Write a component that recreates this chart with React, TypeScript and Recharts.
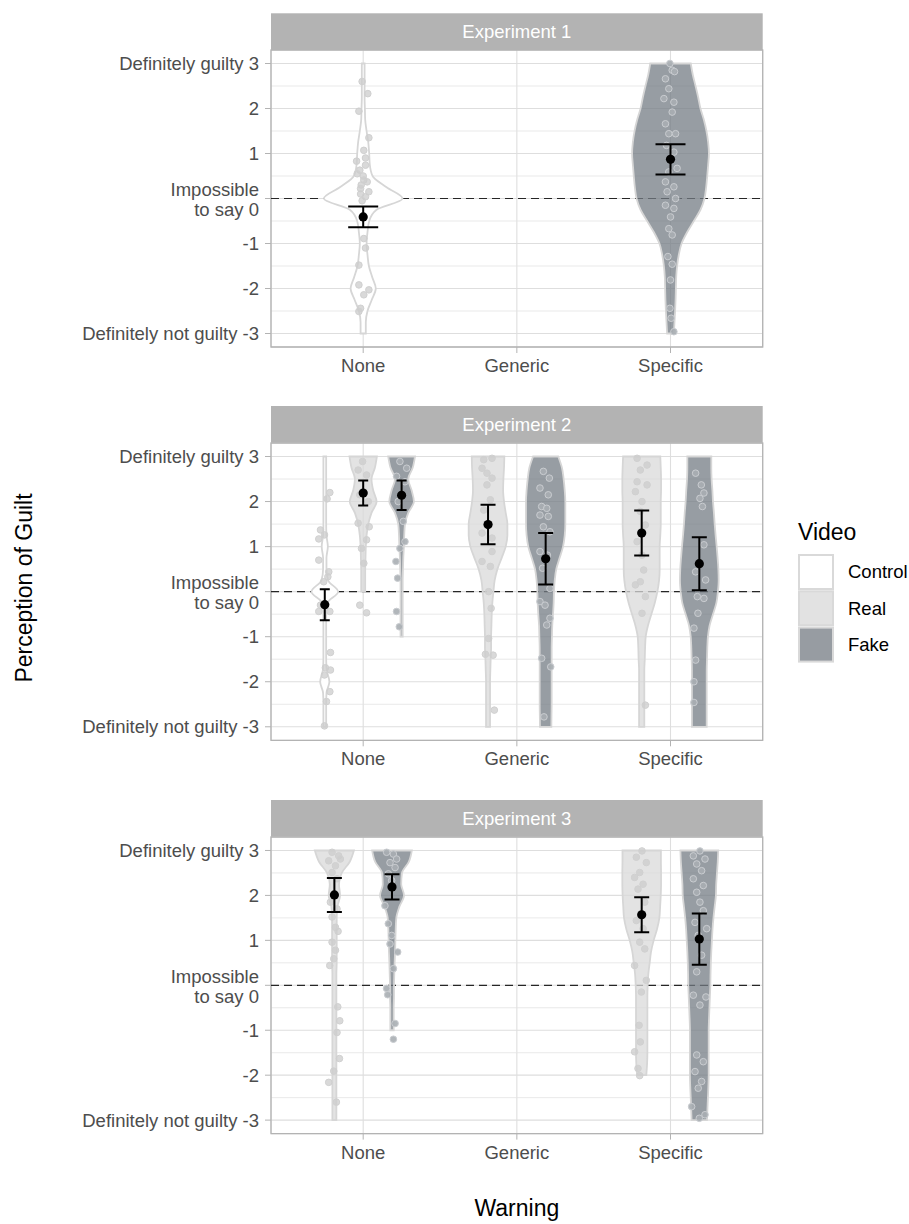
import {
  ComposedChart,
  Scatter,
  XAxis,
  YAxis,
  CartesianGrid,
  ReferenceLine,
  ReferenceArea,
  Curve,
} from "recharts";

const FONT = "'Liberation Sans', Arial, Helvetica, sans-serif";

// categories / labels
const warnings = ["None", "Generic", "Specific"];
const videos = ["Control", "Real", "Fake"];
const panelTitles = ["Experiment 1", "Experiment 2", "Experiment 3"];
const guiltTicks = [-3, -2, -1, 0, 1, 2, 3];
const guiltTickLabels = [
  "Definitely not guilty -3",
  "-2",
  "-1",
  "Impossible\nto say 0",
  "1",
  "2",
  "Definitely guilty 3",
];
const minorLevels = [2.5, 1.5, 0.5, -0.5, -1.5, -2.5];

// y levels at which violin half-widths (in x units) were read, top to bottom
const densityLevels = [
  3, 2.75, 2.5, 2.25, 2, 1.75, 1.5, 1.25, 1, 0.75, 0.5, 0.25, 0,
  -0.25, -0.5, -0.75, -1, -1.25, -1.5, -1.75, -2, -2.25, -2.5, -2.75, -3,
];

// ---- Experiment 1 ----
const exp1NoneControlWidth = [
  0.009, 0.009, 0.009, 0.009, 0.011, 0.013, 0.022, 0.033, 0.039, 0.043, 0.061, 0.152, 0.256,
  0.087, 0.039, 0.028, 0.022, 0.028, 0.037, 0.059, 0.082, 0.056, 0.028, 0.017, 0.017,
];
const exp1SpecificFakeWidth = [
  0.132, 0.145, 0.163, 0.18, 0.195, 0.217, 0.234, 0.245, 0.25, 0.245, 0.239, 0.232, 0.221,
  0.195, 0.152, 0.108, 0.072, 0.054, 0.043, 0.037, 0.035, 0.033, 0.03, 0.026, 0.022,
];
const exp1NoneControlJitter = [
  [-0.007, 2.6], [0.03, 2.33], [-0.028, 1.94], [0.037, 1.35], [0.004, 1.07], [0.015, 0.9],
  [-0.043, 0.83], [0.015, 0.74], [-0.022, 0.63], [-0.039, 0.55], [0, 0.5], [0.004, 0.41],
  [0.026, 0.37], [-0.013, 0.3], [-0.017, 0.22], [0.037, 0.15], [-0.017, 0.1], [0.015, 0.04],
  [-0.007, -0.05], [0.004, -0.89], [0.015, -1.1], [-0.028, -1.48], [-0.028, -1.92],
  [0.037, -2.03], [0.004, -2.14], [-0.017, -2.44], [-0.028, -2.51],
];
const exp1SpecificFakeJitter = [
  [-0.004, 3.0], [0.011, 2.85], [0.026, 2.82], [-0.033, 2.66], [-0.011, 2.44], [-0.043, 2.22],
  [0.022, 2.14], [0.011, 1.92], [-0.033, 1.66], [-0.011, 1.44], [0.033, 1.44], [-0.026, 1.18],
  [0.022, 1.03], [0.043, 0.67], [-0.011, 0.59], [-0.033, 0.37], [0.022, 0.26], [-0.022, 0.15],
  [0.033, 0.0], [-0.033, -0.15], [0.022, -0.22], [0, -0.41], [-0.011, -0.67], [0.011, -0.81],
  [-0.017, -1.29], [0.011, -1.46], [0, -1.81], [-0.004, -2.44], [0.004, -2.66], [0.022, -2.96],
];
const exp1Means = [-0.41, 0.87];
const exp1Errors = [0.23, 0.335];

// ---- Experiment 2 ----
const exp2NoneControlWidth = [
  0.009, 0.009, 0.009, 0.009, 0.009, 0.009, 0.009, 0.011, 0.02, 0.011, 0.011, 0.022, 0.087,
  0.017, 0.009, 0.009, 0.009, 0.009, 0.009, 0.013, 0.03, 0.011, 0.009, 0.009, 0.009,
];
const exp2NoneRealWidth = [
  0.089, 0.076, 0.054, 0.065, 0.087, 0.054, 0.033, 0.022, 0.017, 0.015, 0.013, 0.013, 0.013,
  null, null, null, null, null, null, null, null, null, null, null, null,
];
const exp2NoneFakeWidth = [
  0.087, 0.072, 0.043, 0.065, 0.08, 0.043, 0.022, 0.017, 0.015, 0.011, 0.009, 0.007, 0.007,
  0.007, 0.007, 0.007, 0.007, null, null, null, null, null, null, null, null,
];
const exp2GenericRealWidth = [
  0.106, 0.104, 0.1, 0.098, 0.104, 0.115, 0.126, 0.126, 0.115, 0.089, 0.061, 0.043, 0.035,
  0.028, 0.024, 0.022, 0.02, 0.02, 0.017, 0.015, 0.013, 0.013, 0.013, 0.013, 0.013,
];
const exp2GenericFakeWidth = [
  0.082, 0.106, 0.117, 0.124, 0.128, 0.128, 0.128, 0.124, 0.113, 0.091, 0.069, 0.059, 0.054,
  0.052, 0.048, 0.043, 0.041, 0.039, 0.039, 0.039, 0.039, 0.039, 0.039, 0.038, 0.037,
];
const exp2SpecificRealWidth = [
  0.121, 0.124, 0.126, 0.126, 0.124, 0.124, 0.124, 0.121, 0.117, 0.117, 0.117, 0.113, 0.102,
  0.085, 0.063, 0.041, 0.026, 0.022, 0.02, 0.017, 0.017, 0.017, 0.017, 0.017, 0.017,
];
const exp2SpecificFakeWidth = [
  0.078, 0.078, 0.08, 0.085, 0.089, 0.095, 0.1, 0.106, 0.113, 0.119, 0.124, 0.126, 0.121,
  0.111, 0.089, 0.067, 0.056, 0.052, 0.05, 0.048, 0.048, 0.048, 0.048, 0.048, 0.048,
];
const exp2NoneControlJitter = [
  [0.033, 2.2], [0.015, 2.06], [-0.028, 1.37], [-0.002, 1.26], [-0.039, 1.17], [-0.039, 0.7],
  [0.026, 0.44], [0.02, 0.33], [-0.007, 0.22], [-0.028, -0.3], [-0.039, -0.44], [0.033, -0.44],
  [0.037, -1.35], [0.004, -1.69], [0.037, -1.74], [-0.002, -1.85], [0.033, -2.22],
  [0.011, -2.44], [-0.002, -2.98],
];
const exp2NoneRealJitter = [
  [-0.004, 2.89], [-0.033, 2.7], [0.022, 2.59], [-0.022, 2.15], [0.033, 2.0], [-0.033, 1.52],
  [0.039, 1.44], [0.022, 1.15], [-0.011, 0.96], [0.004, 0.63], [-0.022, -0.3], [0.022, -0.47],
];
const exp2NoneFakeJitter = [
  [-0.011, 2.89], [0.033, 2.74], [-0.033, 2.56], [0.022, 2.44], [-0.022, 2.0], [0.011, 1.56],
  [0.022, 1.11], [-0.011, 0.96], [-0.037, 0.67], [-0.026, 0.3], [-0.033, -0.44], [-0.015, -0.78],
];
const exp2GenericRealJitter = [
  [-0.028, 2.93], [0.026, 2.96], [-0.039, 2.74], [-0.007, 2.63], [0.026, 2.52], [-0.007, 2.37],
  [0.015, 2.04], [-0.028, 1.81], [0.004, 1.48], [-0.039, 1.3], [0.026, 1.19], [0.026, 0.89],
  [-0.039, 0.67], [0.015, 0.56], [0.004, 0], [0.02, -0.37], [0.004, -1.04], [-0.017, -1.39],
  [0.033, -1.41], [0.041, -2.63],
];
const exp2GenericFakeJitter = [
  [-0.015, 2.67], [0.024, 2.52], [-0.037, 2.3], [0.017, 2.15], [-0.026, 1.89], [0.007, 1.85],
  [-0.037, 1.7], [0.017, 1.67], [-0.015, 1.44], [0.028, 1.33], [-0.037, 0.89], [0.011, 0.81],
  [-0.02, 0.52], [0.028, 0.07], [-0.037, -0.22], [-0.004, -0.3], [0.028, -0.59], [0.007, -0.74],
  [-0.026, -1.48], [0.033, -1.67], [-0.011, -2.78],
];
const exp2SpecificRealJitter = [
  [-0.03, 2.96], [0.035, 2.81], [-0.009, 2.7], [-0.03, 2.44], [0.035, 2.37], [-0.041, 2.22],
  [0.002, 2.0], [-0.009, 1.78], [0.024, 1.48], [-0.03, 1.11], [0.002, 0.81], [0.013, 0.48],
  [-0.009, 0.22], [-0.041, 0.15], [0.024, -0.11], [0.002, -0.48], [0.024, -2.52],
];
const exp2SpecificFakeJitter = [
  [-0.024, 2.63], [0.013, 2.37], [0.03, 2.19], [0.004, 2.07], [0.02, 1.89], [0.03, 1.04],
  [-0.024, 0.44], [0.041, 0.26], [-0.013, -0.11], [0.03, -0.15], [-0.009, -0.48],
  [-0.035, -0.81], [-0.024, -1.52], [-0.035, -2.0], [-0.035, -2.46],
];
const exp2Means = [-0.29, 2.19, 2.14, 1.49, 0.73, 1.3, 0.62];
const exp2Errors = [0.345, 0.275, 0.325, 0.44, 0.57, 0.5, 0.59];

// ---- Experiment 3 ----
const exp3NoneRealWidth = [
  0.127, 0.1, 0.048, 0.03, 0.037, 0.02, 0.015, 0.015, 0.015, 0.015, 0.015, 0.013, 0.013,
  0.013, 0.013, 0.013, 0.013, 0.013, 0.013, 0.013, 0.013, 0.013, 0.013, 0.013, 0.013,
];
const exp3NoneFakeWidth = [
  0.129, 0.11, 0.065, 0.06, 0.078, 0.048, 0.028, 0.024, 0.022, 0.02, 0.017, 0.015, 0.013,
  0.013, 0.011, 0.011, 0.011, null, null, null, null, null, null, null, null,
];
const exp3SpecificRealWidth = [
  0.125, 0.125, 0.126, 0.126, 0.124, 0.12, 0.115, 0.1, 0.078, 0.061, 0.052, 0.043, 0.039,
  0.037, 0.037, 0.037, 0.037, 0.037, 0.037, 0.035, 0.03, null, null, null, null,
];
const exp3SpecificFakeWidth = [
  0.123, 0.12, 0.115, 0.11, 0.108, 0.1, 0.092, 0.086, 0.082, 0.078, 0.075, 0.073, 0.072,
  0.069, 0.066, 0.063, 0.061, 0.061, 0.061, 0.061, 0.061, 0.059, 0.056, 0.053, 0.05,
];
const exp3NoneRealJitter = [
  [-0.015, 2.96], [0.028, 2.88], [-0.037, 2.77], [0.039, 2.81], [0.007, 2.66], [-0.015, 2.51],
  [0.017, 2.37], [-0.026, 1.85], [0.017, 1.7], [-0.015, 1.52], [0.007, 1.29], [0.024, 1.2],
  [-0.015, 0.96], [0.007, 0.78], [-0.004, 0.59], [-0.03, 0.44], [0.022, -0.48], [0.035, -0.79],
  [0.017, -1.05], [0.033, -1.63], [-0.004, -1.91], [-0.037, -2.16], [0.013, -2.6],
];
const exp3NoneFakeJitter = [
  [-0.035, 2.96], [0.009, 2.92], [0.03, 2.81], [-0.013, 2.73], [0.02, 2.62], [-0.024, 2.48],
  [-0.002, 2.33], [-0.046, 1.77], [-0.024, 1.37], [-0.002, 1.11], [-0.013, 0.92], [0.037, 0.74],
  [0.009, 0.37], [-0.035, -0.07], [-0.028, -0.21], [0.02, -0.85], [0.009, -1.2],
];
const exp3SpecificRealJitter = [
  [0.002, 2.99], [-0.035, 2.85], [0.03, 2.73], [-0.013, 2.51], [-0.046, 2.4], [0.009, 2.25],
  [-0.024, 2.14], [0.02, 1.85], [-0.035, 1.44], [0.009, 1.26], [-0.013, 0.96], [0.02, 0.81],
  [-0.046, 0.44], [0.03, 0.11], [-0.002, -0.15], [-0.017, -0.89], [-0.009, -1.26],
  [-0.046, -1.48], [-0.024, -1.85], [-0.013, -2.01],
];
const exp3SpecificFakeJitter = [
  [0.004, 2.99], [-0.039, 2.88], [0.037, 2.81], [-0.017, 2.7], [0.015, 2.55], [-0.039, 2.37],
  [0.026, 2.22], [-0.017, 2.07], [0.004, 1.85], [0.026, 1.66], [-0.028, 1.4], [0.048, 1.26],
  [-0.007, 1.11], [0.015, 0.67], [-0.017, 0.3], [-0.039, -0.22], [0.043, -0.26], [0.004, -0.44],
  [-0.017, -1.55], [0.026, -1.7], [-0.028, -1.92], [0.015, -2.14], [-0.007, -2.29],
  [-0.05, -2.7], [0.037, -2.88], [0, -2.96],
];
const exp3Means = [2.01, 2.19, 1.57, 1.03];
const exp3Errors = [0.38, 0.28, 0.39, 0.57];

interface Group {
  warning: string;
  video: string;
  widths: (number | null)[];
  jitter: number[][];
}

const exp1Groups: Group[] = [
  { warning: "None", video: "Control", widths: exp1NoneControlWidth, jitter: exp1NoneControlJitter },
  { warning: "Specific", video: "Fake", widths: exp1SpecificFakeWidth, jitter: exp1SpecificFakeJitter },
];
const exp2Groups: Group[] = [
  { warning: "None", video: "Control", widths: exp2NoneControlWidth, jitter: exp2NoneControlJitter },
  { warning: "None", video: "Real", widths: exp2NoneRealWidth, jitter: exp2NoneRealJitter },
  { warning: "None", video: "Fake", widths: exp2NoneFakeWidth, jitter: exp2NoneFakeJitter },
  { warning: "Generic", video: "Real", widths: exp2GenericRealWidth, jitter: exp2GenericRealJitter },
  { warning: "Generic", video: "Fake", widths: exp2GenericFakeWidth, jitter: exp2GenericFakeJitter },
  { warning: "Specific", video: "Real", widths: exp2SpecificRealWidth, jitter: exp2SpecificRealJitter },
  { warning: "Specific", video: "Fake", widths: exp2SpecificFakeWidth, jitter: exp2SpecificFakeJitter },
];
const exp3Groups: Group[] = [
  { warning: "None", video: "Real", widths: exp3NoneRealWidth, jitter: exp3NoneRealJitter },
  { warning: "None", video: "Fake", widths: exp3NoneFakeWidth, jitter: exp3NoneFakeJitter },
  { warning: "Specific", video: "Real", widths: exp3SpecificRealWidth, jitter: exp3SpecificRealJitter },
  { warning: "Specific", video: "Fake", widths: exp3SpecificFakeWidth, jitter: exp3SpecificFakeJitter },
];

// layout (pixels)
const PAGE_W = 909;
const PLOT_LEFT = 271;
const PLOT_RIGHT = 762.7;
const Y_AXIS_W = 263;
const X_AXIS_H = 40;
const TOP_PAD = 5;
const STRIP_H = 36.7;
const DODGE = 0.75;

const panels = [
  { title: panelTitles[0], groups: exp1Groups, means: exp1Means, errors: exp1Errors, top: 50, bottom: 347 },
  { title: panelTitles[1], groups: exp2Groups, means: exp2Means, errors: exp2Errors, top: 442.7, bottom: 740 },
  { title: panelTitles[2], groups: exp3Groups, means: exp3Means, errors: exp3Errors, top: 836.7, bottom: 1133.3 },
];

// fill per video (coloured violins are semi-transparent so the grid shows through)
const videoFill: Record<string, string> = { Control: "#ffffff", Real: "#d9d9d9", Fake: "#747c84" };
const legendFill: Record<string, string> = { Control: "#ffffff", Real: "#e2e2e2", Fake: "#979ca2" };

function dodge(groups: Group[]) {
  return groups.map((g) => {
    const same = groups.filter((o) => o.warning === g.warning);
    const n = same.length;
    const i = same.indexOf(g);
    const base = warnings.indexOf(g.warning) + 1;
    return { ...g, n, center: base + (i - (n - 1) / 2) * (DODGE / n) };
  });
}

// right edge then left edge, both bottom -> top, so the line renderer can split them
function violinOutline(center: number, widths: (number | null)[]) {
  const right: { x: number; y: number }[] = [];
  const left: { x: number; y: number }[] = [];
  for (let i = densityLevels.length - 1; i >= 0; i--) {
    const w = widths[i];
    if (w == null) continue;
    right.push({ x: center + w, y: densityLevels[i] });
    left.push({ x: center - w, y: densityLevels[i] });
  }
  return [...right, ...left];
}

const violinLine = (fill: string) => (props: any) => {
  const pts = props.points as { x: number; y: number }[];
  const n = pts.length / 2;
  return (
    <Curve
      type="monotone"
      layout="vertical"
      points={pts.slice(0, n)}
      baseLine={pts.slice(n)}
      fill={fill}
      fillOpacity={fill === "#ffffff" ? 1 : 0.75}
      stroke="#d6d6d6"
      strokeWidth={1.8}
    />
  );
};

// error bar drawn from its two end points (already scaled to pixels)
const errorLine = (cap: number) => (props: any) => {
  const [lo, hi] = props.points as { x: number; y: number }[];
  return (
    <g stroke="#000" strokeWidth={2} fill="none">
      <line x1={lo.x} y1={lo.y} x2={hi.x} y2={hi.y} />
      <line x1={lo.x - cap} y1={lo.y} x2={lo.x + cap} y2={lo.y} />
      <line x1={hi.x - cap} y1={hi.y} x2={hi.x + cap} y2={hi.y} />
    </g>
  );
};

const noSymbol = () => <g />;

const jitterDot = (fake: boolean) => (p: any) => (
  <circle
    cx={p.cx}
    cy={p.cy}
    r={3.3}
    fill={fake ? "#a9aeb3" : "#cccccc"}
    fillOpacity={fake ? 0.9 : 0.75}
    stroke={fake ? "#c9ccd0" : "#d0d0d0"}
    strokeWidth={1}
  />
);

const meanDot = (p: any) => <circle cx={p.cx} cy={p.cy} r={4.6} fill="#000" />;

function GuiltTick(props: any) {
  const { x, y, payload } = props;
  const idx = guiltTicks.indexOf(payload.value);
  const label = idx >= 0 ? guiltTickLabels[idx] : String(payload.value);
  const lines = label.split("\n");
  const offsets = lines.length === 1 ? [0] : [-9, 11];
  return (
    <g>
      {lines.map((ln, i) => (
        <text
          key={i}
          x={x}
          y={y + offsets[i]}
          dy="0.35em"
          textAnchor="end"
          fill="#4d4d4d"
          fontSize={18.5}
          fontFamily={FONT}
        >
          {ln}
        </text>
      ))}
    </g>
  );
}

function FacetPanel({ panel }: { panel: (typeof panels)[number] }) {
  const height = panel.bottom - panel.top + TOP_PAD + X_AXIS_H;
  const placed = dodge(panel.groups);
  return (
    <div style={{ position: "absolute", left: 0, top: panel.top - TOP_PAD }}>
      <ComposedChart
        width={PAGE_W}
        height={height}
        margin={{ top: TOP_PAD, right: PAGE_W - PLOT_RIGHT, bottom: 0, left: PLOT_LEFT - Y_AXIS_W }}
      >
        <CartesianGrid stroke="#dedede" strokeWidth={1.1} />
        <CartesianGrid vertical={false} horizontalValues={minorLevels} stroke="#e3e3e3" strokeWidth={0.8} />
        <XAxis
          type="number"
          dataKey="x"
          domain={[0.4, 3.6]}
          allowDataOverflow
          ticks={[1, 2, 3]}
          interval={0}
          tickFormatter={(v: number) => warnings[v - 1]}
          height={X_AXIS_H}
          tickSize={6}
          tickMargin={6}
          axisLine={false}
          tickLine={{ stroke: "#b3b3b3" }}
          tick={{ fill: "#4d4d4d", fontSize: 18.5, fontFamily: FONT }}
        />
        <YAxis
          type="number"
          dataKey="y"
          domain={[-3.3, 3.3]}
          allowDataOverflow
          ticks={guiltTicks}
          interval={0}
          width={Y_AXIS_W}
          tickSize={6}
          tickMargin={6}
          axisLine={false}
          tickLine={{ stroke: "#b3b3b3" }}
          tick={<GuiltTick />}
        />

        {/* violins */}
        {placed.map((g) => (
          <Scatter
            key={`violin-${g.warning}-${g.video}`}
            data={violinOutline(g.center, g.widths)}
            line={violinLine(videoFill[g.video])}
            shape={noSymbol}
            isAnimationActive={false}
          />
        ))}

        <ReferenceLine y={0} stroke="#262626" strokeDasharray="8 5" strokeWidth={1.2} />

        {/* jittered responses */}
        {placed.map((g) => (
          <Scatter
            key={`pts-${g.warning}-${g.video}`}
            data={g.jitter.map(([dx, y]) => ({ x: g.center + dx, y }))}
            shape={jitterDot(g.video === "Fake")}
            isAnimationActive={false}
          />
        ))}

        {/* mean +/- error */}
        {placed.map((g, i) => (
          <Scatter
            key={`err-${g.warning}-${g.video}`}
            data={[
              { x: g.center, y: panel.means[i] - panel.errors[i] },
              { x: g.center, y: panel.means[i] + panel.errors[i] },
            ]}
            line={errorLine(15 / g.n)}
            shape={noSymbol}
            isAnimationActive={false}
          />
        ))}
        {placed.map((g, i) => (
          <Scatter
            key={`mean-${g.warning}-${g.video}`}
            data={[{ x: g.center, y: panel.means[i] }]}
            shape={meanDot}
            isAnimationActive={false}
          />
        ))}

        <ReferenceArea x1={0.4} x2={3.6} y1={-3.3} y2={3.3} fill="none" stroke="#b3b3b3" strokeWidth={1.3} />
      </ComposedChart>
    </div>
  );
}

export default function App() {
  const midX = (PLOT_LEFT + PLOT_RIGHT) / 2;
  return (
    <div
      style={{
        position: "absolute",
        left: 0,
        top: 0,
        width: PAGE_W,
        height: 1224,
        background: "#fff",
        fontFamily: FONT,
        overflow: "hidden",
      }}
    >
      {panels.map((p) => (
        <FacetPanel key={p.title} panel={p} />
      ))}

      <svg
        width={PAGE_W}
        height={1224}
        style={{ position: "absolute", left: 0, top: 0, pointerEvents: "none" }}
        fontFamily={FONT}
      >
        {/* facet strips */}
        {panels.map((p) => (
          <g key={p.title}>
            <rect x={PLOT_LEFT} y={p.top - STRIP_H} width={PLOT_RIGHT - PLOT_LEFT} height={STRIP_H} fill="#b3b3b3" />
            <text x={midX} y={p.top - STRIP_H / 2} dy="0.35em" textAnchor="middle" fill="#fff" fontSize={18.5}>
              {p.title}
            </text>
          </g>
        ))}

        {/* axis titles */}
        <text transform="translate(31.5,588) rotate(-90)" textAnchor="middle" fontSize={23} fill="#000">
          Perception of Guilt
        </text>
        <text x={midX} y={1216} textAnchor="middle" fontSize={23} fill="#000">
          Warning
        </text>

        {/* legend */}
        <text x={798} y={540} fontSize={23} fill="#000">
          Video
        </text>
        {videos.map((v, i) => (
          <g key={v}>
            <rect x={799} y={555 + i * 36.3} width={34} height={34} fill={legendFill[v]} stroke="#d9d9d9" strokeWidth={2} />
            <text x={848} y={572 + i * 36.3} dy="0.35em" fontSize={18.5} fill="#000">
              {v}
            </text>
          </g>
        ))}
      </svg>
    </div>
  );
}
